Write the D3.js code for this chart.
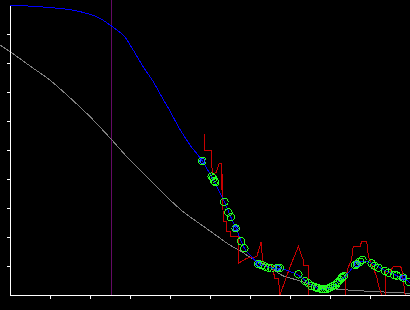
<!DOCTYPE html>
<html>
<head>
<meta charset="utf-8">
<script src="https://cdn.jsdelivr.net/npm/d3@7"></script>
<style>
  body { margin: 0; background: #000; }
  svg { display: block; }
  .axis path, .axis line { stroke: #fff; }
</style>
</head>
<body>
<div class="container"></div>
<script>
// values, in axis units (x 0..10, y 0..10)
const xTicks = [1, 2, 3, 4, 5, 6, 7, 8, 9, 10]
const yTicks = [1, 2, 3, 4, 5, 6, 7, 8, 9]
const markerX = [2.525]

// smooth blue envelope
const blueX = [0, 0.25, 0.92, 1.54, 1.92, 2.25, 2.54, 2.88, 3.08, 3.33, 3.58, 3.79, 3.96, 4.25, 4.5, 4.81, 5.08, 5.36, 5.52, 5.65, 5.78, 5.86, 6.0, 6.21, 6.38, 6.55, 6.75, 7.0, 7.2, 7.4, 7.6, 7.8, 7.95, 8.1, 8.25, 8.4, 8.6, 8.8, 9.0, 9.2, 9.4, 9.6, 9.8, 10]
const blueY = [9.99, 9.98, 9.92, 9.83, 9.71, 9.54, 9.27, 8.88, 8.45, 7.87, 7.36, 6.84, 6.44, 5.71, 5.17, 4.62, 3.97, 3.21, 2.69, 2.3, 1.85, 1.61, 1.38, 1.09, 0.98, 0.93, 0.91, 0.81, 0.69, 0.48, 0.29, 0.2, 0.21, 0.33, 0.5, 0.67, 1.0, 1.17, 1.12, 0.98, 0.83, 0.71, 0.6, 0.43]

// gray background curve
const grayX = [-0.25, 0, 0.58, 1.0, 1.42, 1.79, 2.0, 2.53, 2.92, 3.25, 4.0, 4.33, 4.67, 5.08, 5.5, 5.75, 6.08, 6.46, 6.83, 7.17, 7.58, 8.0, 8.58, 9.25, 10]
const grayY = [8.62, 8.39, 7.82, 7.41, 6.9, 6.43, 6.15, 5.37, 4.77, 4.31, 3.28, 2.87, 2.53, 2.13, 1.72, 1.53, 1.23, 0.98, 0.66, 0.52, 0.34, 0.23, 0.16, 0.11, 0.06]

// red measured trace
const redX = [4.86, 4.86, 5.03, 5.03, 5.06, 5.15, 5.23, 5.28, 5.28, 5.31, 5.33, 5.42, 5.42, 5.5, 5.5, 5.71, 5.71, 5.92, 6.17, 6.28, 6.31, 6.33, 6.58, 6.61, 6.71, 6.75, 7.0, 7.21, 7.33, 7.33, 7.46, 7.46, 8.38, 8.38, 8.46, 8.54, 8.58, 8.75, 8.79, 8.92, 8.96, 9.08, 9.17, 9.21, 9.29, 9.38, 9.38, 9.5, 9.58, 9.75, 9.79, 9.83, 9.88, 10]
const redY = [5.54, 5.0, 5.0, 4.71, 4.2, 4.21, 4.54, 4.54, 3.62, 4.16, 2.53, 2.53, 2.18, 2.18, 2.01, 2.01, 1.09, 1.27, 1.32, 1.84, 1.27, 1.09, 0.98, 0.58, 0.58, 0, 0.97, 1.67, 1.21, 1.03, 1.03, 0, 0, 0.52, 0.97, 1.21, 1.67, 1.67, 1.84, 1.84, 1.32, 0.92, 0.63, 0.34, 0, 0, 0.8, 0.8, 0.98, 0.98, 0.92, 0.52, 0, 0]

// green points
const greenX = [4.81, 5.04, 5.08, 5.11, 5.13, 5.36, 5.46, 5.52, 5.64, 5.78, 5.86, 6.21, 6.29, 6.38, 6.46, 6.54, 6.69, 6.75, 7.21, 7.38, 7.46, 7.54, 7.63, 7.67, 7.71, 7.79, 7.83, 7.88, 7.92, 7.96, 8.0, 8.04, 8.08, 8.13, 8.17, 8.21, 8.25, 8.29, 8.31, 8.35, 8.63, 8.67, 8.75, 8.81, 9.04, 9.11, 9.21, 9.38, 9.46, 9.61, 9.67, 9.83, 9.98]
const greenY = [4.62, 4.08, 4.02, 3.93, 3.89, 3.21, 2.85, 2.68, 2.3, 1.85, 1.61, 1.07, 1.03, 0.98, 0.94, 0.92, 0.94, 0.93, 0.71, 0.48, 0.4, 0.31, 0.27, 0.25, 0.23, 0.2, 0.2, 0.2, 0.21, 0.23, 0.26, 0.29, 0.31, 0.34, 0.4, 0.46, 0.52, 0.58, 0.62, 0.66, 1.03, 1.06, 1.15, 1.21, 1.09, 1.01, 0.94, 0.83, 0.77, 0.69, 0.67, 0.6, 0.44]

// blue marked points
const markX = [4.81, 5.64, 6.21, 6.69, 8.67, 9.83]
const markY = [4.62, 2.3, 1.07, 0.94, 1.06, 0.6]

const w = 410
const h = 310
const zip = (xs, ys) => xs.map((x, i) => [x, ys[i]])

const xScale = d3.scaleLinear().domain([0, 10]).range([10, 410])
const yScale = d3.scaleLinear().domain([0, 10]).range([295, 5])

const svg = d3.select(".container")
.append("svg")
.attr("width", w)
.attr("height", h)
.style("background", "#000")

svg.selectAll(".marker")
.data(markerX)
.enter()
.append("line")
.attr("class", "marker")
.attr("x1", (d) => Math.round(xScale(d)) + 0.5)
.attr("x2", (d) => Math.round(xScale(d)) + 0.5)
.attr("y1", 0)
.attr("y2", yScale(0))
.attr("stroke", "#640a64")
.attr("shape-rendering", "crispEdges")

const line = d3.line()
.x((d) => xScale(d[0]))
.y((d) => yScale(d[1]))

svg.append("path")
.datum(zip(grayX, grayY))
.attr("fill", "none")
.attr("stroke", "#808080")
.attr("shape-rendering", "crispEdges")
.attr("d", line.curve(d3.curveMonotoneX))

svg.append("path")
.datum(zip(redX, redY))
.attr("fill", "none")
.attr("stroke", "#c80000")
.attr("shape-rendering", "crispEdges")
.attr("d", line.curve(d3.curveLinear))

svg.append("path")
.datum(zip(blueX, blueY))
.attr("fill", "none")
.attr("stroke", "#0000ff")
.attr("shape-rendering", "crispEdges")
.attr("d", line.curve(d3.curveMonotoneX))

svg.selectAll(".pt")
.data(zip(greenX, greenY))
.enter()
.append("circle")
.attr("class", "pt")
.attr("cx", (d) => xScale(d[0]))
.attr("cy", (d) => yScale(d[1]))
.attr("r", 3.7)
.attr("fill", "none")
.attr("stroke", "#20ff20")
.attr("shape-rendering", "crispEdges")

svg.selectAll(".mk")
.data(zip(markX, markY))
.enter()
.append("circle")
.attr("class", "mk")
.attr("cx", (d) => xScale(d[0]))
.attr("cy", (d) => yScale(d[1]))
.attr("r", 2.5)
.attr("fill", "none")
.attr("stroke", "#2060ff")
.attr("shape-rendering", "crispEdges")

//Axises
const xAxis = d3.axisBottom(xScale).tickValues(xTicks).tickSize(4).tickSizeOuter(0).tickFormat("")
const yAxis = d3.axisLeft(yScale).tickValues(yTicks).tickSize(3).tickSizeOuter(0).tickFormat("")

svg.append("g")
.attr("class", "axis")
.attr("transform", "translate(0," + yScale(0) + ")")
.attr("shape-rendering", "crispEdges")
.call(xAxis)

svg.append("g")
.attr("class", "axis")
.attr("transform", "translate(" + xScale(0) + ",0)")
.attr("shape-rendering", "crispEdges")
.call(yAxis)
</script>
</body>
</html>
